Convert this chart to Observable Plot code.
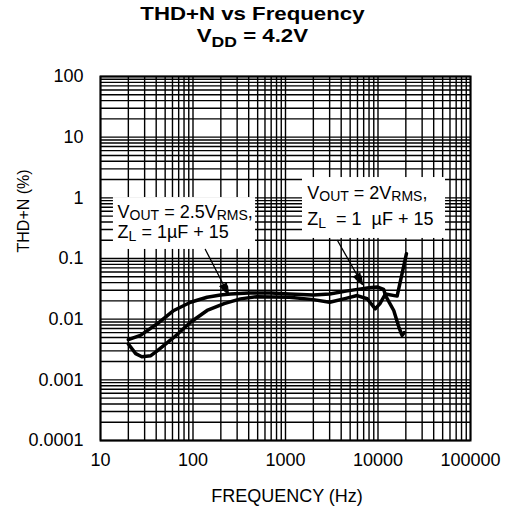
<!DOCTYPE html>
<html><head><meta charset="utf-8">
<script src="https://cdn.jsdelivr.net/npm/d3@7"></script>
<script src="https://cdn.jsdelivr.net/npm/@observablehq/plot@0.6"></script>
<style>
body{margin:0;background:#fff;font-family:"Liberation Sans",Arial,Helvetica,sans-serif;}
#title{width:505px;height:50px;text-align:center;font-weight:bold;font-size:19px;line-height:22px;padding-top:3px;box-sizing:border-box;color:#000;}
#title div{transform:scaleX(1.17);transform-origin:253px 0;}
#title sub{font-size:15px;vertical-align:-5px;line-height:0;}
#chart svg{display:block;}
</style></head><body>
<div id="title"><div>THD+N vs Frequency</div><div>V<sub>DD</sub> = 4.2V</div></div>
<div id="chart"></div>
<script>
// ---- data ----
const freqA = [20, 27, 41, 62, 94, 142, 198, 254, 400, 700, 1100, 2000, 3000, 4500, 6000, 8000, 9800, 11500, 12050, 14800, 16800, 18200, 19200];
const thdA  = [0.0046, 0.0054, 0.0084, 0.0139, 0.019, 0.023, 0.025, 0.026, 0.027, 0.027, 0.026, 0.025, 0.026, 0.029, 0.031, 0.033, 0.034, 0.031, 0.0245, 0.0139, 0.0074, 0.0054, 0.0060];
const freqB = [20, 24, 28, 35, 41, 62, 94, 142, 217, 326, 493, 1100, 2000, 3000, 4500, 5950, 7640, 9340, 10500, 12050, 16100, 20300];
const thdB  = [0.0039, 0.0027, 0.0024, 0.0025, 0.0030, 0.005, 0.0089, 0.0139, 0.018, 0.0216, 0.0235, 0.023, 0.021, 0.019, 0.022, 0.0245, 0.0217, 0.0148, 0.018, 0.026, 0.024, 0.12];
const xTicks = [10, 100, 1000, 10000, 100000];
const yTicks = [0.0001, 0.001, 0.01, 0.1, 1, 10, 100];
const xLabel = "FREQUENCY (Hz)";
const yLabel = "THD+N (%)";
// annotation texts: [string, isSubscript]
const annoLeft1  = [["V",0],["OUT",1],[" = 2.5V",0],["RMS",1],[",",0]];
const annoLeft2  = [["Z",0],["L",1],[" = 1\u00b5F + 15",0]];
const annoRight1 = [["V",0],["OUT",1],[" = 2V",0],["RMS",1],[",",0]];
const annoRight2 = [["Z",0],["L",1],["  = 1  \u00b5F + 15",0]];
// annotation anchors in data units (frequency, THD+N)
const annoFreq = [15.3, 15.3, 1718, 1718];
const annoThd  = [0.58, 0.268, 1.20, 0.436];
const boxF1 = [13.8, 1527], boxF2 = [475, 53700], boxT1 = [1.01, 2.16], boxT2 = [0.141, 0.214];
const arrF1 = [136, 3648], arrT1 = [0.141, 0.198], arrF2 = [242, 6790], arrT2 = [0.0255, 0.0373];

// ---- build tables ----
const rowsA = freqA.map((f, i) => ({f, v: thdA[i]}));
const rowsB = freqB.map((f, i) => ({f, v: thdB[i]}));
const annoParts = [annoLeft1, annoLeft2, annoRight1, annoRight2];
const annos = annoParts.map((p, i) => ({x: annoFreq[i], y: annoThd[i], parts: p, plain: p.map(d => d[0]).join("")}));
const boxes = boxF1.map((d, i) => ({x1: boxF1[i], x2: boxF2[i], y1: boxT1[i], y2: boxT2[i]}));
const arrows = arrF1.map((d, i) => ({x1: arrF1[i], y1: arrT1[i], x2: arrF2[i], y2: arrT2[i]}));
const xGrid = d3.scaleLog().domain([10, 1e5]).ticks();
const yGrid = d3.scaleLog().domain([1e-4, 100]).ticks();

const plot = Plot.plot({
  width: 505, height: 466,
  marginTop: 26, marginBottom: 76, marginLeft: 100, marginRight: 35,
  style: {fontFamily: "'Liberation Sans', Arial, Helvetica, sans-serif", fontSize: "18px", background: "white", color: "black"},
  x: {type: "log", domain: [10, 100000]},
  y: {type: "log", domain: [0.0001, 100]},
  marks: [
    Plot.ruleX(xGrid, {stroke: "black", strokeWidth: 1.4}),
    Plot.ruleY(yGrid, {stroke: "black", strokeWidth: 1.4}),
    Plot.rect(boxes, {x1: "x1", x2: "x2", y1: "y1", y2: "y2", fill: "white"}),
    Plot.line(rowsA, {x: "f", y: "v", stroke: "black", strokeWidth: 3.5, strokeLinejoin: "round"}),
    Plot.line(rowsB, {x: "f", y: "v", stroke: "black", strokeWidth: 3.5, strokeLinejoin: "round"}),
    Plot.arrow(arrows, {x1: "x1", y1: "y1", x2: "x2", y2: "y2", stroke: "black", strokeWidth: 1.3, headLength: 10, headAngle: 40}),
    Plot.text(annos, {x: "x", y: "y", text: "plain", textAnchor: "start", lineAnchor: "middle", fontSize: 18, fill: "black"}),
    Plot.axisX({ticks: xTicks, tickFormat: d => String(d), tickSize: 0, tickPadding: 13, fontSize: 18, label: null}),
    Plot.axisY({ticks: yTicks, tickFormat: d => String(d), tickSize: 0, tickPadding: 17, fontSize: 18, label: null}),
    Plot.text([xLabel], {text: d => d, frameAnchor: "bottom", dy: 61, dx: 1.5, fontSize: 18, fill: "black"}),
    Plot.text([yLabel], {text: d => d, frameAnchor: "left", dx: -77, dy: -6, rotate: -90, fontSize: 16, fill: "black"}),
    Plot.frame({stroke: "black", strokeWidth: 2})
  ]
});

// rich text (subscripts) for annotations
const SUBFS = 14, SUBDY = 2.5;
d3.select(plot).selectAll("text").each(function() {
  const t = this.textContent;
  const a = annos.find(d => d.plain === t);
  if (!a) return;
  const sel = d3.select(this);
  sel.text(null).style("white-space", "pre");
  let shifted = false;
  a.parts.forEach(([s, sub]) => {
    const ts = sel.append("tspan").text(s);
    if (sub) {
      ts.attr("font-size", SUBFS);
      if (!shifted) { ts.attr("dy", SUBDY); shifted = true; }
    } else if (shifted) {
      ts.attr("dy", -SUBDY); shifted = false;
    }
  });
});

// filled arrow heads, positioned through the plot's own scales
const sx = plot.scale("x"), sy = plot.scale("y");
const heads = d3.select(plot).append("g").attr("fill", "black");
arrows.forEach(a => {
  const x1 = sx.apply(a.x1), y1 = sy.apply(a.y1), x2 = sx.apply(a.x2), y2 = sy.apply(a.y2);
  const ang = Math.atan2(y2 - y1, x2 - x1), L = 11, W = 4.5;
  const bx = x2 - L * Math.cos(ang), by = y2 - L * Math.sin(ang);
  const px = -Math.sin(ang) * W, py = Math.cos(ang) * W;
  heads.append("path").attr("d", `M${x2},${y2}L${bx + px},${by + py}L${bx - px},${by - py}Z`);
});

document.getElementById("chart").appendChild(plot);
</script>
</body></html>
